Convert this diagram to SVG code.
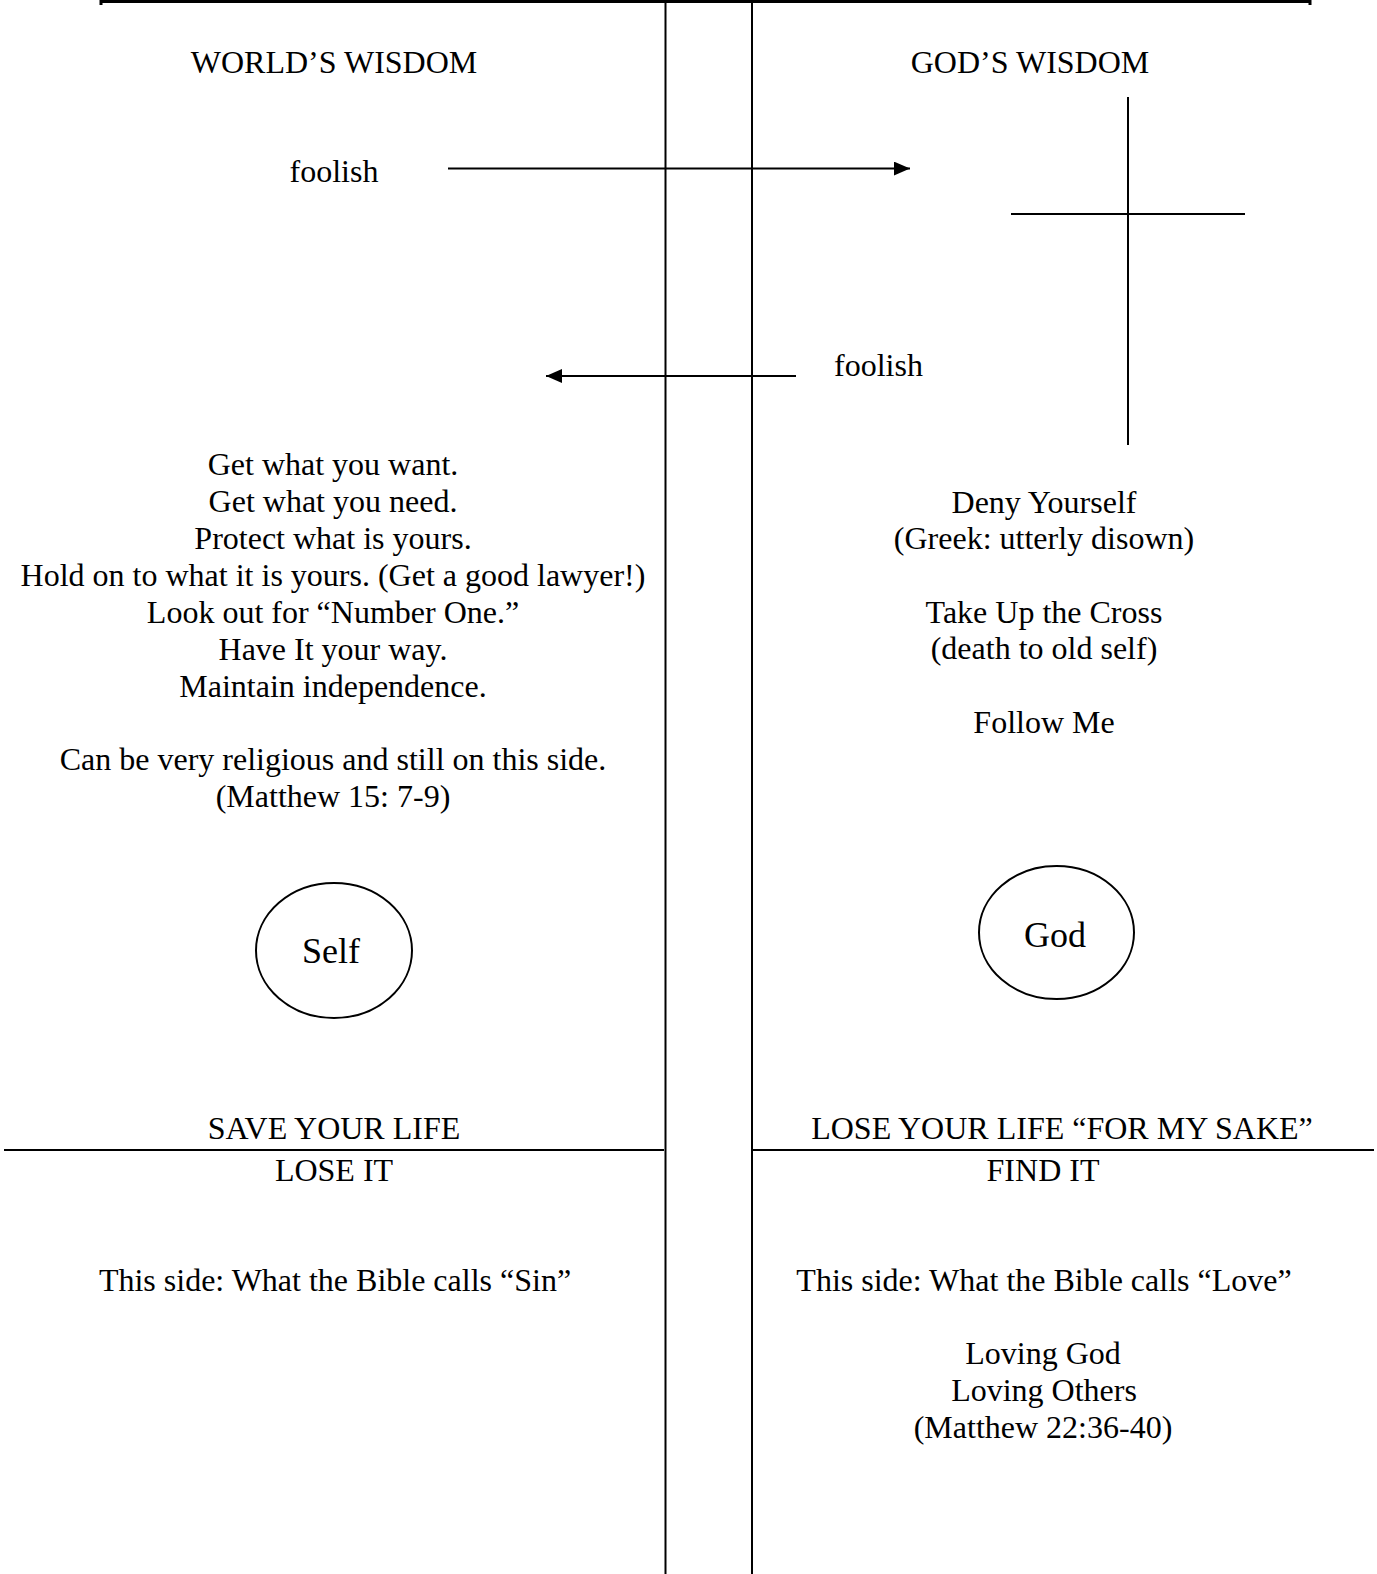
<svg xmlns="http://www.w3.org/2000/svg" width="1377" height="1574" viewBox="0 0 1377 1574">
<style>
text{font-family:"Liberation Serif","Times New Roman",serif;font-size:32px;fill:#000;text-anchor:middle}
.ln{stroke:#000;stroke-width:2;fill:none}
.big{font-size:36px}
</style>
<defs>
<marker id="ah" viewBox="0 0 16 14" refX="16" refY="7" markerWidth="16" markerHeight="14" markerUnits="userSpaceOnUse" orient="auto">
<path d="M0,0L16,7L0,14z" fill="#000"/>
</marker>
</defs>
<rect width="1377" height="1574" fill="#fff"/>
<g id="frame">
<path class="ln" d="M101,5V1.5H1310V5" style="stroke-width:3"/>
<line class="ln" x1="665.5" y1="0" x2="665.5" y2="1574"/>
<line class="ln" x1="752" y1="0" x2="752" y2="1574"/>
<line class="ln" x1="4" y1="1150" x2="664" y2="1150"/>
<line class="ln" x1="751" y1="1150" x2="1374" y2="1150"/>
</g>
<g id="cross">
<line class="ln" x1="1128" y1="97" x2="1128" y2="445"/>
<line class="ln" x1="1011" y1="214" x2="1245" y2="214"/>
</g>
<g id="connectors">
<line class="ln" x1="448" y1="168.6" x2="910" y2="168.6" marker-end="url(#ah)"/>
<line class="ln" x1="796" y1="376" x2="546" y2="376" marker-end="url(#ah)"/>
</g>
<g id="left-head"><text x="334" y="73">WORLD’S WISDOM</text></g>
<g id="right-head"><text x="1030" y="73">GOD’S WISDOM</text></g>
<g id="foolish-left"><text x="334" y="182">foolish</text></g>
<g id="foolish-right"><text x="834" y="376" style="text-anchor:start">foolish</text></g>
<g id="left-list">
<text x="333" y="475">Get what you want.</text>
<text x="333" y="512">Get what you need.</text>
<text x="333" y="549">Protect what is yours.</text>
<text x="333" y="586">Hold on to what it is yours. (Get a good lawyer!)</text>
<text x="333" y="623">Look out for “Number One.”</text>
<text x="333" y="660">Have It your way.</text>
<text x="333" y="697">Maintain independence.</text>
<text x="333" y="770">Can be very religious and still on this side.</text>
<text x="333" y="807">(Matthew 15: 7-9)</text>
</g>
<g id="right-list">
<text x="1044" y="513">Deny Yourself</text>
<text x="1044" y="549">(Greek: utterly disown)</text>
<text x="1044" y="623">Take Up the Cross</text>
<text x="1044" y="659">(death to old self)</text>
<text x="1044" y="733">Follow Me</text>
</g>
<g id="self">
<ellipse class="ln" cx="334" cy="950.5" rx="78" ry="67.5"/>
<text class="big" x="331" y="963">Self</text>
</g>
<g id="god">
<ellipse class="ln" cx="1056.5" cy="932.5" rx="77.5" ry="66.5"/>
<text class="big" x="1055" y="947">God</text>
</g>
<g id="left-bottom">
<text x="334" y="1139">SAVE YOUR LIFE</text>
<text x="334" y="1181">LOSE IT</text>
<text x="335" y="1291">This side: What the Bible calls “Sin”</text>
</g>
<g id="right-bottom">
<text x="1062" y="1139">LOSE YOUR LIFE “FOR MY SAKE”</text>
<text x="1043" y="1181">FIND IT</text>
<text x="1044" y="1291">This side: What the Bible calls “Love”</text>
<text x="1043" y="1364">Loving God</text>
<text x="1044" y="1401">Loving Others</text>
<text x="1043" y="1438">(Matthew 22:36-40)</text>
</g>
</svg>
